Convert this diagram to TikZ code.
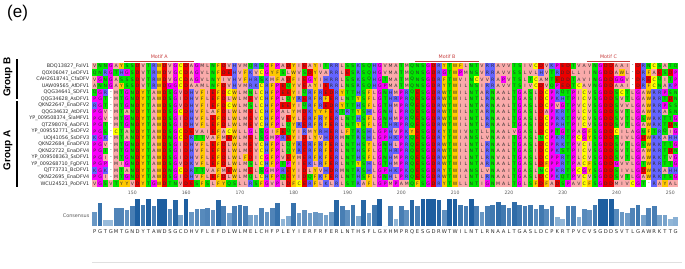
\documentclass[tikz,border=0pt]{standalone}
\usepackage{fontspec}
\setmainfont{Liberation Sans}
\newfontfamily\seqfont{DejaVu Sans}
\usetikzlibrary{positioning}

% residue colours (Zappo)
\definecolor{zpink}{RGB}{250,170,170}
\definecolor{zaro}{RGB}{255,200,0}
\definecolor{zpos}{RGB}{100,100,255}
\definecolor{zneg}{RGB}{235,0,0}
\definecolor{zphil}{RGB}{0,230,0}
\definecolor{zpg}{RGB}{250,0,250}
\definecolor{zcys}{RGB}{255,255,0}
\colorlet{zI}{zpink}\colorlet{zL}{zpink}\colorlet{zV}{zpink}\colorlet{zA}{zpink}\colorlet{zM}{zpink}
\colorlet{zF}{zaro}\colorlet{zW}{zaro}\colorlet{zY}{zaro}
\colorlet{zK}{zpos}\colorlet{zR}{zpos}\colorlet{zH}{zpos}
\colorlet{zD}{zneg}\colorlet{zE}{zneg}
\colorlet{zS}{zphil}\colorlet{zT}{zphil}\colorlet{zN}{zphil}\colorlet{zQ}{zphil}
\colorlet{zP}{zpg}\colorlet{zG}{zpg}
\colorlet{zC}{zcys}
\definecolor{motifred}{RGB}{200,60,60}
\definecolor{bardark}{RGB}{30,95,160}
\definecolor{barlight}{RGB}{185,212,235}
\definecolor{inkgray}{RGB}{45,45,45}

% grid geometry (pt)
\def\gx{92}
\def\gy{63}
\def\cw{5.38}
\def\rh{6.53}

\makeatletter
\newcount\colidx
\def\gapres{-}
% consensus: store residue per column, reset counters, print letter
\newcommand\consrow[1]{%
  \global\colidx=0
  \@tfor\res:=#1\do{%
    \global\advance\colidx by 1
    \expandafter\global\expandafter\let\csname cons@\the\colidx\endcsname\res
    \expandafter\gdef\csname cnt@\the\colidx\endcsname{0}%
    \node[conslet] (k\the\colidx) at ({\gx+(\the\colidx-0.5)*\cw},232) {\res};}}
% one aligned sequence: label + coloured cells, counts identity
\newcommand\seqrow[3]{%
  \node[seqname] (lab#1) at (\gx-2.5,{\gy+(#1-0.5)*\rh}) {#2};
  \global\colidx=0
  \@tfor\res:=#3\do{%
    \global\advance\colidx by 1
    \ifx\res\gapres\def\rescol{white}\else\edef\rescol{z\res}\fi
    \node[cell,fill=\rescol] (c#1-\the\colidx) at ({\gx+(\the\colidx-0.5)*\cw},{\gy+(#1-0.5)*\rh}) {\res};
    \expandafter\ifx\csname cons@\the\colidx\endcsname\res
      \expandafter\xdef\csname cnt@\the\colidx\endcsname{\the\numexpr\csname cnt@\the\colidx\endcsname+1\relax}%
    \fi}}
\makeatother

\begin{document}
\begin{tikzpicture}[x=1pt,y=-1pt]
  \tikzstyle{cell}=[inner sep=0pt,minimum width=5.5pt,minimum height=6.65pt,text=inkgray,
    font=\seqfont\fontsize{4.6}{5}\selectfont]
  \tikzstyle{seqname}=[anchor=east,inner sep=0pt,text=inkgray,font=\seqfont\fontsize{4.9}{5}\selectfont]
  \tikzstyle{conslet}=[inner sep=0pt,text=inkgray,font=\seqfont\fontsize{5.2}{6}\selectfont]
  \tikzstyle{ruler}=[inner sep=0pt,text=black!65,font=\seqfont\fontsize{4.6}{5}\selectfont]
  \tikzstyle{grp}=[rotate=90,inner sep=0pt,font=\fontsize{10}{12}\selectfont\bfseries]
  \tikzstyle{grpbar}=[line width=1.6pt]
  \tikzstyle{motifline}=[motifred,line width=0.8pt]
  \tikzstyle{motiflab}=[inner sep=0pt,text=motifred,font=\seqfont\fontsize{4.8}{5}\selectfont]

  \useasboundingbox[fill=white] (0,0) rectangle (685,268);

  % -- Panel tag --
  \node[inner sep=0pt,anchor=west,font=\fontsize{17}{20}\selectfont] (tag) at (7,13) {(e)};

  % -- Consensus (stored first, drawn below) --
  \consrow{PGTGMTGNDYTAWDSGCDHVFLEFDLWLMELCHFPLEYIERFRFERLNTHSFLGXHMPRQESGDRWTWILNTLRNAALTGASLDCPKRTPVCVSGDDSVTLGAWRKTTG}
  \node[seqname,text=black!65] (conslab) at (\gx-2.5,216) {Consensus};

  % -- Group B --
  \seqrow{1}{BDQ13827\_FolV1}{VNNGAYSSDVTRWDVGCDAGMLNFDVHVMQRSGFPADYIEAYITRRLSSKSQHGVMATMQNSGDRYTWFLNTVRRAVVTSIVCDVKPEDTVAVNGDDAAI-DRNCSATQ}
  \seqrow{2}{QOX06047\_LeDFV1}{QNRGTHGSDVTRWDVGCDAGVLNFDEHVFKVCGYFSLWVSDYVARRLESRSQHGVMATMQNSGDRGTWPMNSVRRAVVSSLVLHVTRDDLLIINGDDAWL-DRFAESDP}
  \seqrow{3}{CAH2618741\_CfaDFV}{VGNGASSSDVTRWDVGCDAGVLNYIVHVFHRSKMFADFIEGYIHRRLSSKSQHGTMATMQNSGDRFTWVINCVVRAPVTSLTCAMTEDDTAVINGDDGGV-DRECQITP}
  \seqrow{4}{UAW09565\_AfDFV1}{ANNGAYSSDVTRWDGGCDAAMLNFDVHVMRKCRFPEQYVEAYIERRLNSRSQHGPMATMQNSGDRYTWILNSIRRAVVTSIVCDVQPEDTCAVNGDDAAI-DRFCNAKP}

  % -- Group A --
  \seqrow{5}{QQG34641\_SDFV1}{QGR-MTGNDYTAWDSGVDHVFIEFDCWLMNLCHFPEEYIQRFREDRYTTHSFLGNHMPRQESGDRWTWILNTARNAALTGASLDCPRQTPICVSGDDSCTLGAWRRPSN}
  \seqrow{6}{QQG34628\_AsDFV1}{PGT-MTGNDYTAWDSGIDHVFLEFDLWLMEVCHFPLQYRERFRFERLNTYSFLGTHRPRQESGDRWTWILNTLRNAALTGASIDCPKHTPICVSGDDSVTLGAWRRTDN}
  \seqrow{7}{QKN22647\_EnaDFV2}{RGT-MTGNDYTAWDSGVDHVFIEFDCWLMSLCHFPEEYIQRFREDRYTTHSFLGTHMPRQESGDRWTWILNTARNAALTGASLDCPVGTPVCVSGDDSVVLGAWRRPSS}
  \seqrow{8}{QQG34632\_AtDFV1}{PGV-MTANDYTAWDSGCDHVFLAFDLWLMELCHFPALYMDKYYFEKTRTYSHLGNHLPRQESGDRWTWILNTARNAALTGASLDAPKRTPLCVSGDDSVTLGAWRKASN}
  \seqrow{9}{YP\_009508374\_SlaMFV1}{PGV-MTGNDYTAWDSGIDHVFLEFDLWLMEVCHFPVEYLERFRYERLNTHSFLGNHMPRQESGDRWTWILNTLRNAALTGASLDCPRKTPVCVSGDDSVTLGSWRKTTG}
  \seqrow{10}{QTZ98076\_AaDFV1}{PGT-MTGNDYTAWDSGIDHVFLEFDLWLMEVCHFPLQYRERFRFERLNTYSFLGTHRPRQESGDRWTWILNTLRNAALTGASIDCPRHTPICVSGDDSVTLGAWRKTDN}
  \seqrow{11}{YP\_009552771\_SsDFV2}{PGS-CTANDYTAWDSGCDEVAIEFACWLLGLSGIFEQYIRMYRHERLFTRSHLGPHVPKYESGDKYTWIVNTLLNAALVGASLDCPTGTPAGFSGDDCILAGNFTRQIG}
  \seqrow{12}{UOJ41056\_SsDFV3}{KGK-MTANDYTAWDNGCDRTTVAFMEWLMELSGMPREYIDLYVHDRMNTRSHLGPHKPKQESGDRYTWIANSLVNAAITGASLNCPKRTPCGYSGDDSIVLGDWRKAHH}
  \seqrow{13}{QKN22684\_EnaDFV3}{PGV-MTGNDYTAWDSGIDHVFLEFDLWLMEVCHFPLQYRERFRFERLNTHSYLGNHLPRQESGDRWTWILNTLRNAALTGASLDCPRKTPVCISGDDSVTLGSWRKTTG}
  \seqrow{14}{QKN22722\_EnaDFV4}{PGT-MTGNDYTAWDSGIDHVFLEFDLWLMEVCHFPLQYRERFRFERLNTHSFLGTHRPRQESGDRWTWILNTLRNAALTGASIDCPKSTPICVSGDDSVTLGAWRRTDN}
  \seqrow{15}{YP\_009508363\_SsDFV1}{PGI-MTGNDYTAWDSGIDHVFLEFDLWLFDICGFPVEYMERFKFERLNTHSFLGNHMPRQESGDRWTWILNTLRNVALTGASLDCPPRTPLCVSGDDSVTLGAWRKTVG}
  \seqrow{16}{YP\_009268710\_FgDFV1}{PGP-MIGNDYTAWDSGVDKVFLEFDLWLMSLCHFPTPYIEKLRFERLNTYSHLGTHMPRQESGDRWTWILNTARNAALTGASLDFPPRTPACFSGDDGVVLGTWRRTTG}
  \seqrow{17}{QJT73731\_BcDFV1}{KGK-MTANDYTAWDNGCDRTTVAFMEWLMELSGMPREYIDLYVHDRMNTRSHLGPHKPKQESGDRYTWIANSLVNAAITGASLNCPKRTPCGYSGDDSIVLGDWRKAHH}
  \seqrow{18}{QKN22695\_EnaDFV4}{PGI-MTGNDYTAWDSGIDHVFLEFDLWLMQLCHFPQEYIDQFKFERLNTHSFLGNHLPRQESGDRWTWILNTLRNAALTGASLDCPKQTPVCVSGDDSVTLGAWRKTSG}
  \seqrow{19}{WCU24521\_PoDFV1}{VGSVTYYVDYTGWDTNVDESFSLFYQSLLRSFGVPLDFCERFLKLRLSTRAFLGPMPAMQFSGDRYTWLLNTIGNMALTGLSFDFADSPAVCFSGDDMIVCGT-RAYAL}

  % -- Group labels and bars --
  \coordinate (gB1) at (17,59);  \coordinate (gB2) at (17,99);
  \coordinate (gA1) at (17,101); \coordinate (gA2) at (17,187);
  \draw[grpbar] (gB1) -- (gB2);
  \draw[grpbar] (gA1) -- (gA2);
  \node[grp] (grpB) at (8,77) {Group B};
  \node[grp] (grpA) at (8,150) {Group A};

  % -- Motifs --
  \coordinate (mA1) at ({\gx+6*\cw},61);  \coordinate (mA2) at ({\gx+19*\cw},61);
  \coordinate (mB1) at ({\gx+60*\cw},61); \coordinate (mB2) at ({\gx+72*\cw},61);
  \coordinate (mC1) at ({\gx+92*\cw},61); \coordinate (mC2) at ({\gx+100*\cw},61);
  \draw[motifline] (mA1) -- node[motiflab,above=2.5pt] (motA) {Motif A} (mA2);
  \draw[motifline] (mB1) -- node[motiflab,above=2.5pt] (motB) {Motif B} (mB2);
  \draw[motifline] (mC1) -- node[motiflab,above=2.5pt] (motC) {Motif C} (mC2);

  % -- Ruler --
  \foreach \n [count=\i from 0] in {150,160,...,250}
    \node[ruler] (pos\n) at ({\gx+(7.5+10*\i)*\cw},193) {\n};

  % -- Identity bars --
  \foreach \k in {1,...,109} {
    \edef\cn{\csname cnt@\k\endcsname}
    \pgfmathsetmacro\bh{\cn*27/19}
    \pgfmathtruncatemacro\bp{\cn*100/19}
    \fill[bardark!\bp!barlight] ({\gx+(\k-1)*\cw+0.35},226) rectangle ({\gx+\k*\cw-0.35},{226-\bh});
  }

  % -- Bottom rule --
  \draw[black!12,line width=0.6pt] (\gx,262) -- (682,262);
\end{tikzpicture}
\end{document}
